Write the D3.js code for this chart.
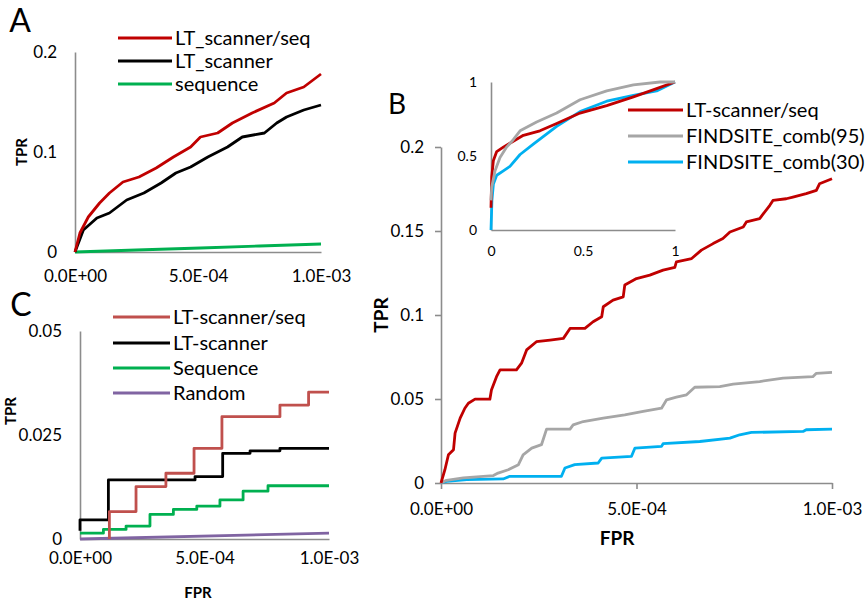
<!DOCTYPE html>
<html>
<head>
<meta charset="utf-8">
<script src="https://cdn.jsdelivr.net/npm/d3@7"></script>
<style>
  body { margin: 0; background: #fff; }
  svg text { font-family: Lato, "Open Sans", sans-serif; fill: #000; }
  .domain { stroke: #8c8c8c; stroke-width: 1.6; }
  .tick line { stroke: #8c8c8c; stroke-width: 1.6; }
  .curve { fill: none; stroke-width: 2.8; stroke-linejoin: round; }
  .axis-title { font-weight: bold; }
</style>
</head>
<body>
<div id="fig"></div>
<script>
const width = 867;
const height = 604;

// Panel A : FPR, TPR pairs
const seriesA = ["LT_scanner/seq", "LT_scanner", "sequence"];
const redA = [[0,0],[0.02e-3,0.019],[0.054e-3,0.035],[0.10e-3,0.049],[0.14e-3,0.059],[0.195e-3,0.07],[0.26e-3,0.075],
  [0.33e-3,0.084],[0.40e-3,0.095],[0.47e-3,0.105],[0.51e-3,0.115],[0.58e-3,0.119],[0.64e-3,0.129],[0.72e-3,0.139],
  [0.81e-3,0.149],[0.86e-3,0.159],[0.93e-3,0.165],[1.0e-3,0.178]];
const blackA = [[0,0],[0.034e-3,0.022],[0.089e-3,0.034],[0.14e-3,0.039],[0.21e-3,0.052],[0.28e-3,0.059],[0.35e-3,0.069],
  [0.41e-3,0.079],[0.47e-3,0.085],[0.54e-3,0.095],[0.62e-3,0.105],[0.68e-3,0.115],[0.77e-3,0.119],[0.82e-3,0.129],
  [0.86e-3,0.135],[0.93e-3,0.142],[1.0e-3,0.147]];
const greenA = [[0,0],[0.25e-3,0.002],[0.51e-3,0.004],[0.75e-3,0.006],[1.0e-3,0.008]];

// Panel C : step curves
const seriesC = ["LT-scanner/seq", "LT-scanner", "Sequence", "Random"];
const redC = [[0.118e-3,0],[0.118e-3,0.0066],[0.225e-3,0.0126],[0.345e-3,0.0158],[0.458e-3,0.0218],[0.570e-3,0.0294],
  [0.803e-3,0.0322],[0.918e-3,0.0353],[1.0e-3,0.0353]];
const blackC = [[0,0.002],[0,0.0046],[0.114e-3,0.0142],[0.462e-3,0.015],[0.573e-3,0.0206],[0.683e-3,0.0212],
  [0.803e-3,0.0218],[1.0e-3,0.0218]];
const greenC = [[0,0.0014],[0.094e-3,0.0023],[0.185e-3,0.0031],[0.281e-3,0.0059],[0.375e-3,0.0071],[0.469e-3,0.0079],
  [0.562e-3,0.0094],[0.655e-3,0.0115],[0.755e-3,0.0128],[1.0e-3,0.0128]];
const purpleC = [[0,0],[1.0e-3,0.0014]];

// Panel B : main plot
const seriesB = ["LT-scanner/seq", "FINDSITE_comb(95)", "FINDSITE_comb(30)"];
const redB = [[0,0],[0.010e-3,0.0079],[0.019e-3,0.0168],[0.032e-3,0.0198],[0.036e-3,0.0297],[0.049e-3,0.0386],
  [0.061e-3,0.0445],[0.070e-3,0.0475],[0.087e-3,0.0499],[0.125e-3,0.0499],[0.129e-3,0.0554],[0.142e-3,0.0633],
  [0.151e-3,0.0673],[0.193e-3,0.0673],[0.206e-3,0.0713],[0.219e-3,0.0792],[0.244e-3,0.0841],[0.279e-3,0.0851],
  [0.313e-3,0.0861],[0.330e-3,0.092],[0.368e-3,0.092],[0.389e-3,0.096],[0.411e-3,0.099],[0.415e-3,0.1049],
  [0.440e-3,0.1089],[0.466e-3,0.1108],[0.470e-3,0.1178],[0.500e-3,0.1217],[0.534e-3,0.1237],[0.568e-3,0.1267],
  [0.598e-3,0.1283],[0.602e-3,0.1316],[0.641e-3,0.1336],[0.666e-3,0.1386],[0.696e-3,0.1425],[0.721e-3,0.1455],
  [0.739e-3,0.1494],[0.773e-3,0.1524],[0.781e-3,0.1554],[0.815e-3,0.1574],[0.841e-3,0.1653],[0.849e-3,0.1682],
  [0.883e-3,0.1692],[0.900e-3,0.1702],[0.934e-3,0.1722],[0.960e-3,0.1742],[0.968e-3,0.1781],[1.0e-3,0.1811]];
const greyB = [[0,0],[0.014e-3,0.0016],[0.057e-3,0.003],[0.134e-3,0.0044],[0.146e-3,0.0059],[0.172e-3,0.0079],
  [0.198e-3,0.0109],[0.210e-3,0.0168],[0.232e-3,0.0208],[0.257e-3,0.0228],[0.270e-3,0.0321],[0.330e-3,0.0321],
  [0.338e-3,0.0346],[0.364e-3,0.0366],[0.415e-3,0.0386],[0.470e-3,0.0406],[0.517e-3,0.0426],[0.564e-3,0.0445],
  [0.577e-3,0.0495],[0.602e-3,0.0511],[0.628e-3,0.0525],[0.649e-3,0.057],[0.713e-3,0.0574],[0.747e-3,0.0588],
  [0.815e-3,0.0604],[0.875e-3,0.0624],[0.951e-3,0.0633],[0.960e-3,0.0653],[1.0e-3,0.0659]];
const blueB = [[0,0],[0.014e-3,0.001],[0.066e-3,0.002],[0.159e-3,0.0024],[0.176e-3,0.004],[0.308e-3,0.004],
  [0.317e-3,0.0089],[0.342e-3,0.0109],[0.402e-3,0.0119],[0.411e-3,0.0148],[0.487e-3,0.0158],[0.496e-3,0.0208],
  [0.564e-3,0.0218],[0.568e-3,0.0234],[0.662e-3,0.0247],[0.739e-3,0.0267],[0.764e-3,0.0287],[0.794e-3,0.0301],
  [0.926e-3,0.0307],[0.934e-3,0.0317],[1.0e-3,0.0321]];

// Panel B : inset (full ROC)
const redInset = [[0,0.15],[0.004,0.36],[0.013,0.47],[0.031,0.53],[0.067,0.56],[0.121,0.60],[0.176,0.64],[0.266,0.67],
  [0.357,0.72],[0.484,0.79],[0.629,0.84],[0.774,0.90],[0.900,0.955],[1,1]];
const greyInset = [[0,0.2],[0.004,0.29],[0.022,0.40],[0.049,0.49],[0.085,0.56],[0.121,0.61],[0.158,0.67],[0.248,0.73],
  [0.357,0.79],[0.484,0.88],[0.629,0.94],[0.774,0.98],[0.918,1],[1,1]];
const blueInset = [[0,0],[0.005,0.2],[0.013,0.31],[0.031,0.37],[0.067,0.40],[0.103,0.43],[0.158,0.51],[0.230,0.58],
  [0.357,0.70],[0.484,0.80],[0.629,0.87],[0.774,0.91],[0.900,0.94],[1,1]];

const fprTicks = [0, 5e-4, 1e-3];
const tprTicksA = [0, 0.1, 0.2];
const tprTicksB = [0, 0.05, 0.1, 0.15, 0.2];
const tprTicksC = [0, 0.025, 0.05];
const insetTicks = [0, 0.5, 1];

// "5.0E-04" style labels
const sciFormat = d => d.toExponential(1).toUpperCase().replace(/E([+-])(\d)$/, "E$10$2");

const svg = d3.select("#fig")
  .append("svg")
    .attr("width", width)
    .attr("height", height)
    .attr("viewBox", `0 0 ${width} ${height}`);

function drawAxes(p) {
  const g = svg.append("g");
  g.append("g")
      .attr("transform", `translate(0,${p.y.range()[0]})`)
      .call(d3.axisBottom(p.x).tickValues(p.xTicks).tickFormat(p.xFormat)
        .tickSize(p.tick).tickSizeOuter(0).tickPadding(p.xPad))
      .call(a => a.selectAll("text").style("font-size", p.fs + "px"));
  g.append("g")
      .attr("transform", `translate(${p.x.range()[0]},0)`)
      .call(d3.axisLeft(p.y).tickValues(p.yTicks).tickFormat(d3.format("~g"))
        .tickSize(p.tick).tickSizeOuter(0).tickPadding(p.yPad))
      .call(a => a.selectAll("text").style("font-size", p.fs + "px"));
  g.selectAll(".domain").attr("fill", "none");
  if (p.tick === 0) g.selectAll(".tick line").remove();
}

function drawCurves(p, list) {
  list.forEach(s => {
    const line = d3.line()
      .x(d => p.x(d[0]))
      .y(d => p.y(d[1]))
      .curve(s.curve || d3.curveLinear);
    svg.append("path")
      .datum(s.data)
      .attr("class", "curve")
      .attr("stroke", s.color)
      .attr("d", line);
  });
}

function drawLegend(names, colors, x1, x2, ys, fs) {
  names.forEach((n, i) => {
    svg.append("line")
      .attr("x1", x1).attr("x2", x2)
      .attr("y1", ys[i]).attr("y2", ys[i])
      .attr("stroke", colors[i])
      .attr("stroke-width", 3);
    svg.append("text")
      .attr("x", x2 + 3)
      .attr("y", ys[i])
      .attr("dy", "0.35em")
      .style("font-size", fs + "px")
      .text(n);
  });
}

function label(txt, x, y, fs, rotate, bold) {
  svg.append("text")
    .attr("class", bold ? "axis-title" : null)
    .attr("transform", `translate(${x},${y})` + (rotate ? " rotate(-90)" : ""))
    .attr("text-anchor", "middle")
    .attr("dy", "0.35em")
    .style("font-size", fs + "px")
    .text(txt);
}

// PANEL A
const pA = {
  x: d3.scaleLinear().domain([0, 1e-3]).range([75, 321]),
  y: d3.scaleLinear().domain([0, 0.2]).range([252, 52]),
  xTicks: fprTicks, yTicks: tprTicksA, xFormat: sciFormat,
  tick: 0, xPad: 18, yPad: 18, fs: 17
};
drawAxes(pA);
drawCurves(pA, [
  { data: greenA, color: "#00b050" },
  { data: blackA, color: "#000000" },
  { data: redA, color: "#c00000" }
]);
drawLegend(seriesA, ["#c00000", "#000000", "#00b050"], 118, 172, [38, 61, 84], 20);
label("TPR", 22, 152, 15, true, true);
label("A", 20, 21, 32);

// PANEL C
const pC = {
  x: d3.scaleLinear().domain([0, 1e-3]).range([80, 329]),
  y: d3.scaleLinear().domain([0, 0.05]).range([539, 331]),
  xTicks: fprTicks, yTicks: tprTicksC, xFormat: sciFormat,
  tick: 0, xPad: 13, yPad: 18, fs: 17
};
drawAxes(pC);
drawCurves(pC, [
  { data: purpleC, color: "#8064a2" },
  { data: greenC, color: "#00b050", curve: d3.curveStepAfter },
  { data: blackC, color: "#000000", curve: d3.curveStepAfter },
  { data: redC, color: "#c0504d", curve: d3.curveStepAfter }
]);
drawLegend(seriesC, ["#c0504d", "#000000", "#00b050", "#8064a2"], 113, 170, [317, 343, 368, 393], 20);
label("TPR", 11, 411, 15, true, true);
label("FPR", 198, 593, 15, false, true);
label("C", 21, 305, 32);

// PANEL B main
const pB = {
  x: d3.scaleLinear().domain([0, 1e-3]).range([441, 832]),
  y: d3.scaleLinear().domain([0, 0.2]).range([483, 147]),
  xTicks: fprTicks, yTicks: tprTicksB, xFormat: sciFormat,
  tick: 6, xPad: 14, yPad: 11, fs: 17
};
drawAxes(pB);
drawCurves(pB, [
  { data: blueB, color: "#00b0f0" },
  { data: greyB, color: "#a6a6a6" },
  { data: redB, color: "#c00000" }
]);
label("TPR", 381, 315, 19, true, true);
label("FPR", 617, 538, 19, false, true);
label("B", 397, 104, 28);

// PANEL B inset
const pI = {
  x: d3.scaleLinear().domain([0, 1]).range([491, 675]),
  y: d3.scaleLinear().domain([0, 1]).range([230, 82]),
  xTicks: insetTicks, yTicks: insetTicks, xFormat: d3.format("~g"),
  tick: 0, xPad: 16, yPad: 14, fs: 14
};
drawAxes(pI);
drawCurves(pI, [
  { data: blueInset, color: "#00b0f0" },
  { data: redInset, color: "#c00000" },
  { data: greyInset, color: "#a6a6a6" }
]);
drawLegend(seriesB, ["#c00000", "#a6a6a6", "#00b0f0"], 628, 683, [110, 136, 162], 20);
</script>
</body>
</html>
